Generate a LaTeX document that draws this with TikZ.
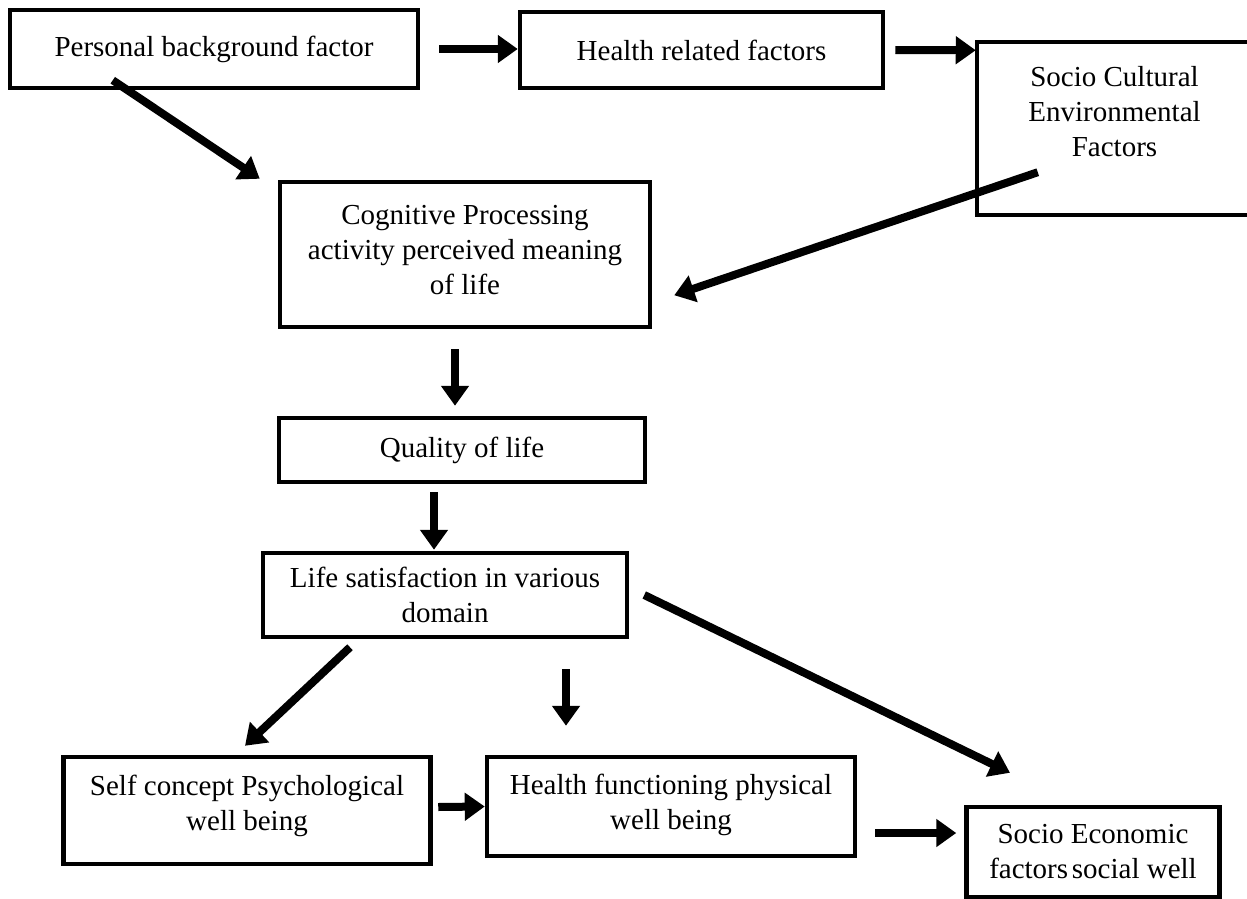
\documentclass[tikz,border=0pt]{standalone}
\usepackage{fontspec}
\setmainfont{Liberation Serif}
\usetikzlibrary{arrows.meta}

\begin{document}
\begin{tikzpicture}[x=1pt,y=-1pt,
  box/.style={draw=black,line width=4.5pt,inner sep=0pt,align=center,
    font=\fontsize{29}{35}\selectfont},
  flow/.style={line width=8pt,-{Triangle[length=20pt,width=27pt]}}]
  \useasboundingbox (0,0) rectangle (1247,899);

  \node[box,minimum width=408pt,minimum height=78pt] (pbf) at (214,49) {Personal background factor};
  \node[box,minimum width=363pt,minimum height=76pt] (hrf) at (701.5,50) {Health related factors};
  \node[box,minimum width=275pt,minimum height=173pt] (scef) at (1114.5,128.5)
    {Socio Cultural\\Environmental\\Factors\\\mbox{}};
  \node[box,minimum width=370pt,minimum height=145pt] (cog) at (465,254.5)
    {Cognitive Processing\\activity perceived meaning\\of life\\[-25pt]\mbox{}};
  \node[box,minimum width=366pt,minimum height=64pt] (qol) at (462,450) {Quality of life};
  \node[box,minimum width=364pt,minimum height=84pt] (lsd) at (445,595)
    {Life satisfaction in various\\domain};
  \node[box,minimum width=367pt,minimum height=107pt] (scp) at (247,810.5)
    {Self concept Psychological\\well being\\[-20pt]\mbox{}};
  \node[box,minimum width=368pt,minimum height=99pt] (hfp) at (671,806.5)
    {Health functioning physical\\well being\\[-26pt]\mbox{}};
  \node[box,minimum width=253pt,minimum height=90pt] (sef) at (1093,852)
    {Socio Economic\\factors\hspace{-0.12em} social well};

  \draw[flow] ([xshift=19pt]pbf.east) -- ([yshift=1pt]hrf.west);
  \draw[flow] ([xshift=10pt]hrf.east) -- ([shift={(1pt,-10.5pt)}]scef.north west);
  \draw[flow] ([shift={(105pt,10pt)}]pbf.south west) -- ([shift={(-18pt,1pt)}]cog.north west);
  \draw[flow] ([shift={(63pt,45pt)}]scef.south west) -- ([shift={(22pt,34pt)}]cog.south east);
  \draw[flow] ([shift={(-10pt,-20pt)}]cog.south) -- ([shift={(-7pt,10pt)}]qol.north);
  \draw[flow] ([shift={(-28pt,-8pt)}]qol.south) -- ([shift={(-11pt,1pt)}]lsd.north);
  \draw[flow] ([shift={(-95pt,-8pt)}]lsd.south) -- ([shift={(-2pt,9pt)}]scp.north);
  \draw[flow] ([shift={(121pt,-30pt)}]lsd.south) -- ([shift={(-105pt,29pt)}]hfp.north);
  \draw[flow] ([xshift=15pt]lsd.east) -- ([shift={(-83pt,32pt)}]sef.north);
  \draw[flow] ([shift={(5.5pt,3.5pt)}]scp.east) -- (hfp.west);
  \draw[flow] ([shift={(18pt,-26.5pt)}]hfp.east) -- ([shift={(-8pt,19pt)}]sef.west);
\end{tikzpicture}
\end{document}
